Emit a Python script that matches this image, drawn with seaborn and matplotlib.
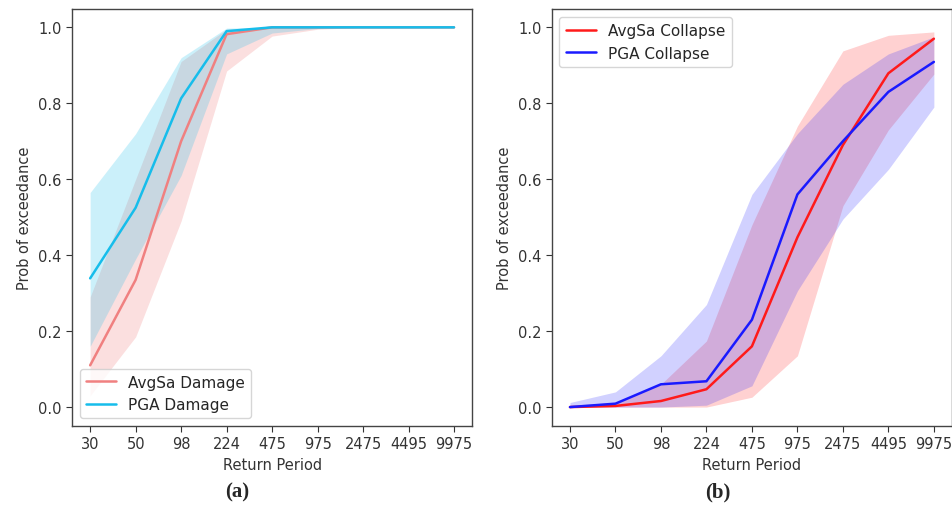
import numpy as np
import pandas as pd
import matplotlib
matplotlib.use("Agg")
import matplotlib.pyplot as plt
import seaborn as sns

return_periods = ["30", "50", "98", "224", "475", "975", "2475", "4495", "9975"]

# Panel (a) - damage
avgsa_damage = [0.11, 0.335, 0.70, 0.982, 1.0, 1.0, 1.0, 1.0, 1.0]
avgsa_damage_lo = [0.03, 0.185, 0.49, 0.885, 0.977, 0.995, 1.0, 1.0, 1.0]
avgsa_damage_hi = [0.29, 0.60, 0.91, 0.995, 1.0, 1.0, 1.0, 1.0, 1.0]
pga_damage = [0.339, 0.525, 0.813, 0.99, 1.0, 1.0, 1.0, 1.0, 1.0]
pga_damage_lo = [0.16, 0.39, 0.61, 0.93, 0.985, 0.997, 1.0, 1.0, 1.0]
pga_damage_hi = [0.565, 0.72, 0.92, 0.998, 1.0, 1.0, 1.0, 1.0, 1.0]

# Panel (b) - collapse
avgsa_collapse = [0.0, 0.003, 0.016, 0.047, 0.16, 0.447, 0.69, 0.879, 0.97]
avgsa_collapse_lo = [0.0, 0.0, 0.0, 0.0, 0.026, 0.135, 0.53, 0.73, 0.877]
avgsa_collapse_hi = [0.005, 0.012, 0.06, 0.174, 0.48, 0.74, 0.938, 0.979, 0.988]
pga_collapse = [0.0, 0.009, 0.06, 0.068, 0.23, 0.56, 0.70, 0.83, 0.909]
pga_collapse_lo = [0.0, 0.0, 0.0, 0.005, 0.056, 0.306, 0.495, 0.626, 0.79]
pga_collapse_hi = [0.012, 0.04, 0.135, 0.27, 0.56, 0.72, 0.85, 0.93, 0.975]

sns.set_style("white")
plt.rcParams["font.family"] = ["DejaVu Sans"]

fig = plt.figure(figsize=(9.53, 5.06), dpi=100)
axL = fig.add_axes([0.0755, 0.156, 0.420, 0.824])
axR = fig.add_axes([0.579, 0.156, 0.420, 0.824])

pos = np.arange(len(return_periods))

def panel(ax, series, legend_loc):
    for name, y, lo, hi, color, alpha in series:
        df = pd.DataFrame({"x": pos, "y": y})
        sns.lineplot(data=df, x="x", y="y", ax=ax, color=color, lw=1.8, label=name)
        ax.fill_between(pos, lo, hi, color=color, alpha=alpha, lw=0)
    ax.set_xticks(pos)
    ax.set_xticklabels(return_periods)
    ax.set_xlim(-0.4, 8.4)
    ax.set_ylim(-0.05, 1.048)
    ax.set_yticks([0.0, 0.2, 0.4, 0.6, 0.8, 1.0])
    ax.set_yticklabels(["0.0", "0.2", "0.4", "0.6", "0.8", "1.0"])
    ax.set_xlabel("Return Period", fontsize=10.5, color="#333333")
    ax.set_ylabel("Prob of exceedance", fontsize=10.5, color="#333333")
    ax.tick_params(axis="both", labelsize=10.5, colors="#333333", length=4, width=0.8,
                   direction="out", bottom=True, left=True)
    for s in ax.spines.values():
        s.set_color("#444444")
        s.set_linewidth(1.0)
    leg = ax.legend(loc=legend_loc, fontsize=11, frameon=True, handlelength=2.0)
    leg.get_frame().set_edgecolor("#cccccc")

panel(axL, [
    ("AvgSa Damage", avgsa_damage, avgsa_damage_lo, avgsa_damage_hi, "#f08080", 0.25),
    ("PGA Damage", pga_damage, pga_damage_lo, pga_damage_hi, "#16bdeb", 0.22),
], "lower left")

panel(axR, [
    ("AvgSa Collapse", avgsa_collapse, avgsa_collapse_lo, avgsa_collapse_hi, "#ff1a1a", 0.2),
    ("PGA Collapse", pga_collapse, pga_collapse_lo, pga_collapse_hi, "#1a1aff", 0.2),
], "upper left")

fig.text(0.249, 0.026, "(a)", ha="center", va="center", fontsize=15,
         fontweight="bold", family=["Liberation Serif"])
fig.text(0.753, 0.026, "(b)", ha="center", va="center", fontsize=15,
         fontweight="bold", family=["Liberation Serif"])

fig.savefig("out.png", dpi=100)
